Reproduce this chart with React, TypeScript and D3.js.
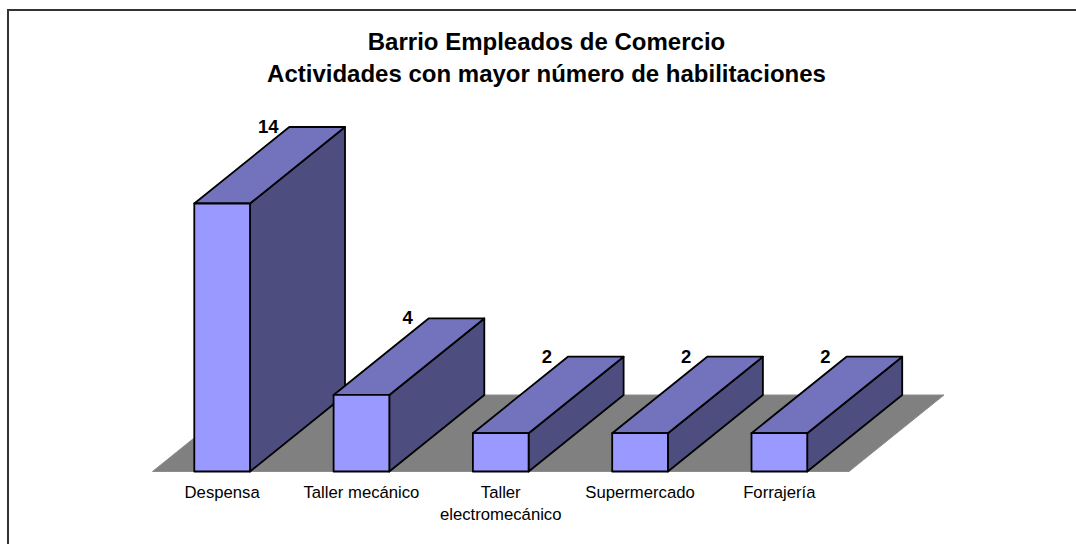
// App.tsx
import React from 'react';
import * as d3 from 'd3';

const titleLines = ['Barrio Empleados de Comercio', 'Actividades con mayor número de habilitaciones'];
const categories = ['Despensa', 'Taller mecánico', 'Taller electromecánico', 'Supermercado', 'Forrajería'];
const values = [14, 4, 2, 2, 2];
const categoryLabels = [['Despensa'], ['Taller mecánico'], ['Taller', 'electromecánico'], ['Supermercado'], ['Forrajería']];

const width = 1076;
const height = 544;
const depthX = 95;
const depthY = 76.5;
const font = '"Liberation Sans", Arial, sans-serif';

const xScale = d3.scaleBand<string>()
  .domain(categories)
  .range([152.5, 849])
  .paddingInner(0.6)
  .paddingOuter(0.3);

const yScale = d3.scaleLinear().domain([0, 14]).range([471.5, 203.5]);

// parallelogram / box faces go through d3.line
const poly = (pts: [number, number][]) => d3.line()(pts) + 'Z';

const App = () => {
  const y0 = yScale(0);
  const [x0, x1] = xScale.range();

  const floor = poly([
    [x0, y0],
    [x1, y0],
    [x1 + depthX, y0 - depthY],
    [x0 + depthX, y0 - depthY],
  ]);

  return (
    <svg
      width={width}
      height={height}
      style={{ position: 'absolute', left: 0, top: 0, background: '#fff' }}
      fontFamily={font}
    >
      {/* chart frame, cut off by the page on the right and bottom */}
      <rect x={8} y={10} width={width + 20} height={height + 20} fill="none" stroke="#333" strokeWidth={2} />

      {titleLines.map((t, i) => (
        <text key={t} x={546.5} y={50 + i * 32} textAnchor="middle" fontSize={24} fontWeight="bold" fill="#000">
          {t}
        </text>
      ))}

      <path d={floor} fill="#808080" stroke="#8c8c8c" strokeWidth={1} />

      {categories.map((c, i) => {
        const l = xScale(c)!;
        const r = l + xScale.bandwidth();
        const top = yScale(values[i]);
        return (
          <g key={c} stroke="#000" strokeWidth={1.8} strokeLinejoin="round">
            <path
              d={poly([[r, y0], [r + depthX, y0 - depthY], [r + depthX, top - depthY], [r, top]])}
              fill="#4d4d7f"
            />
            <path
              d={poly([[l, top], [r, top], [r + depthX, top - depthY], [l + depthX, top - depthY]])}
              fill="#7373bd"
            />
            <path d={poly([[l, top], [r, top], [r, y0], [l, y0]])} fill="#9999ff" />
            <text
              x={l + depthX - 21}
              y={top - depthY + 6}
              textAnchor="middle"
              fontSize={18.5}
              fontWeight="bold"
              fill="#000"
              stroke="none"
            >
              {values[i]}
            </text>
          </g>
        );
      })}

      {categories.map((c, i) => (
        <text key={c} textAnchor="middle" fontSize={16.7} fill="#000">
          {categoryLabels[i].map((line, j) => (
            <tspan key={line} x={xScale(c)! + xScale.bandwidth() / 2} y={498 + j * 21.5}>
              {line}
            </tspan>
          ))}
        </text>
      ))}
    </svg>
  );
};

export default App;
